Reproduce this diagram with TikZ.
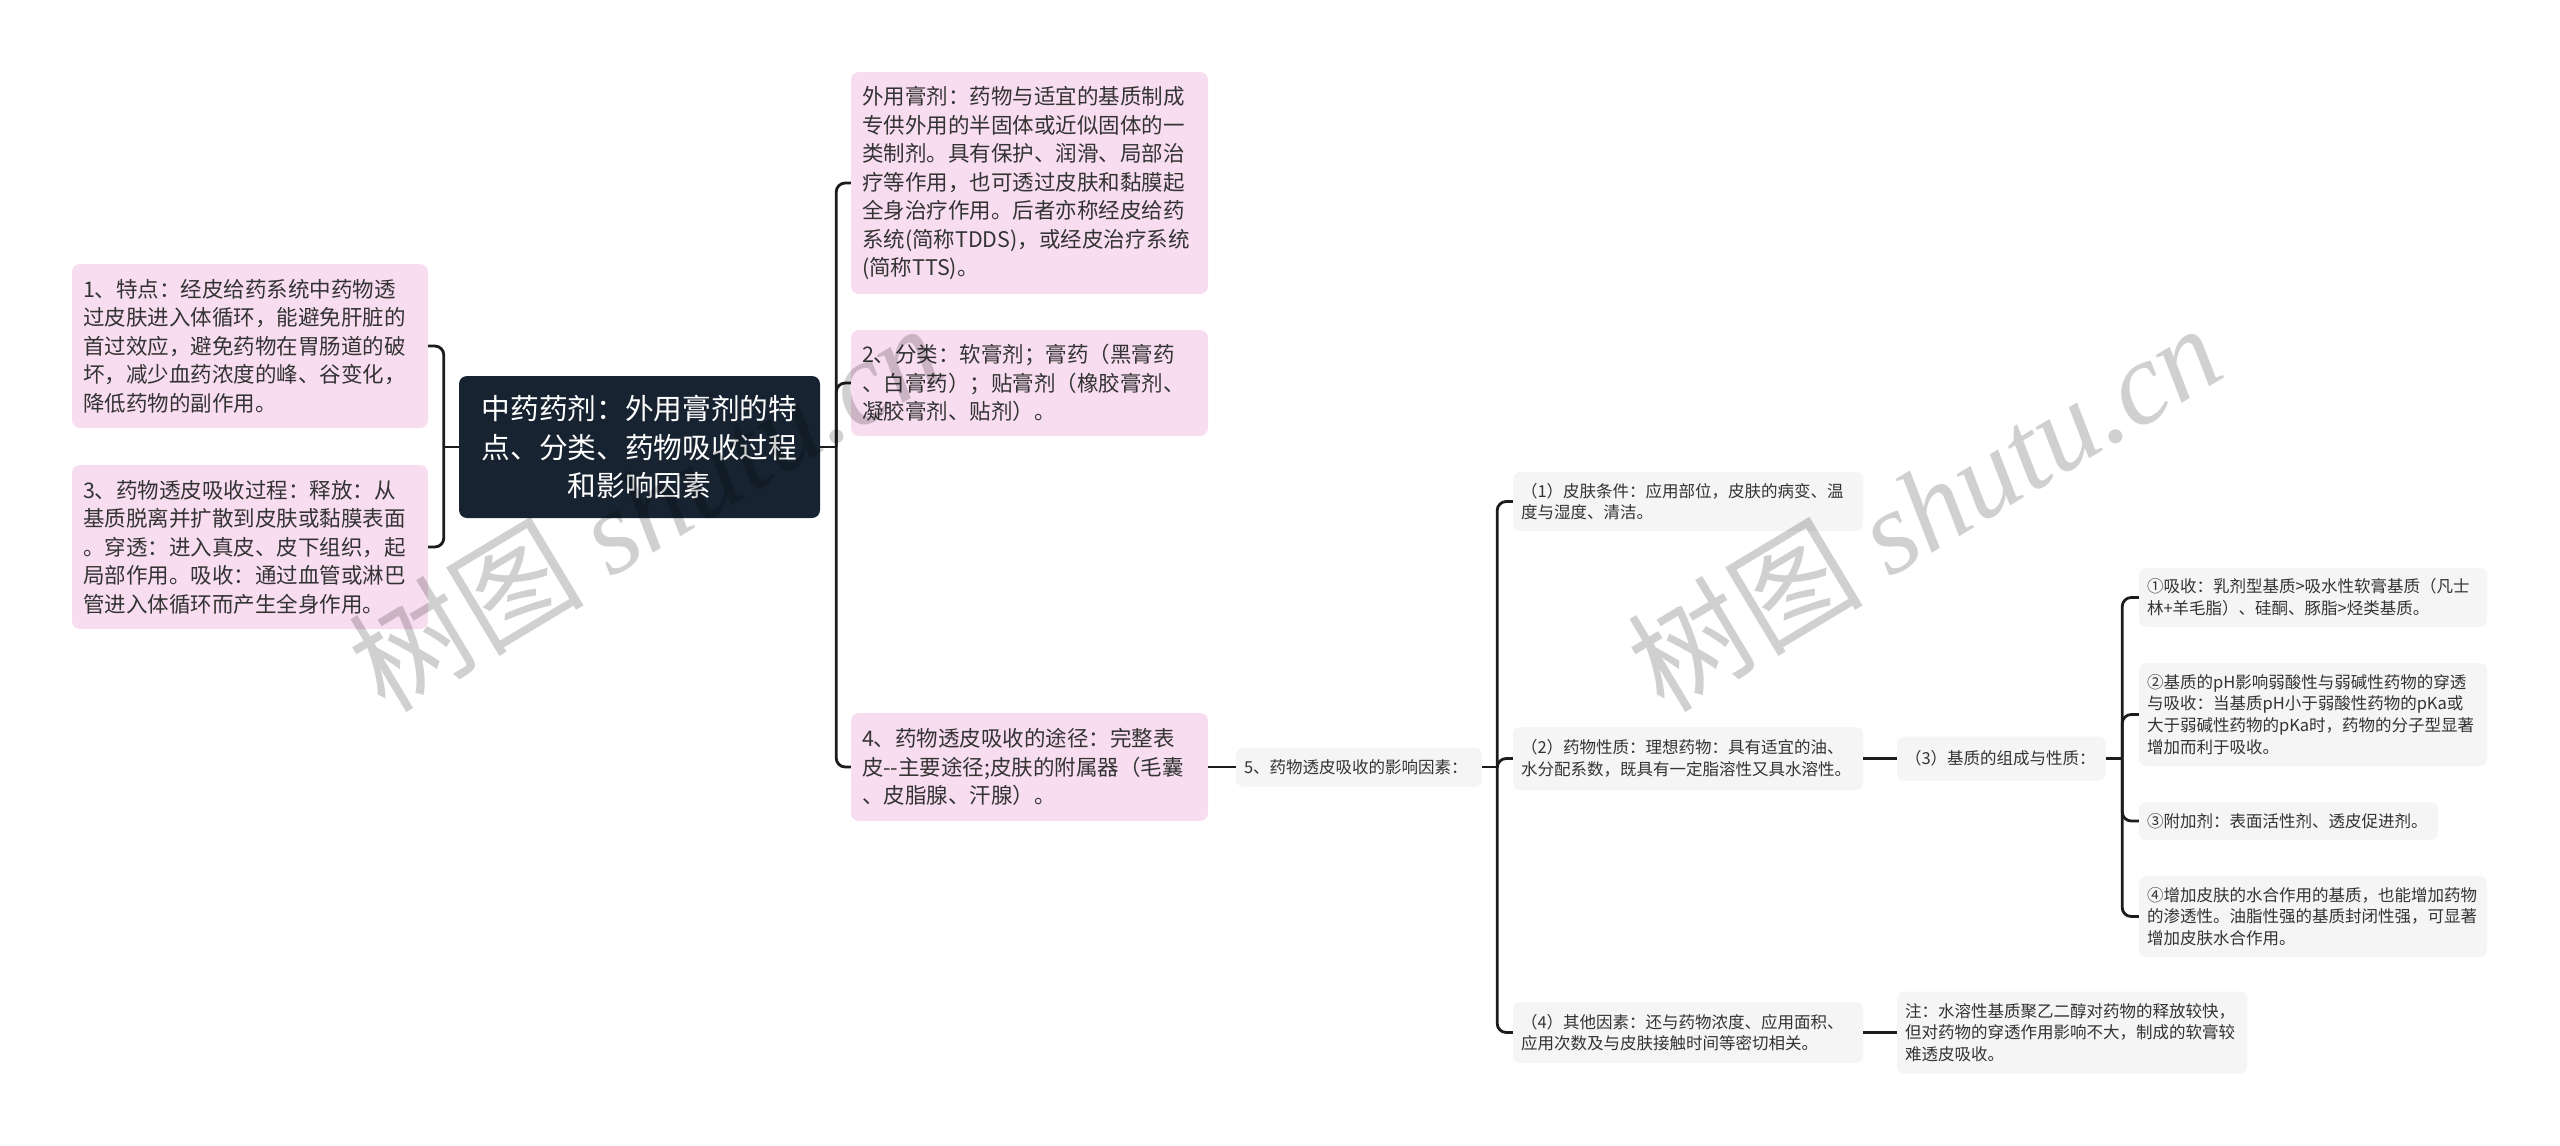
\documentclass[tikz,border=0pt]{standalone}
\usepackage{fontspec}
\newfontfamily\cjk{Noto Sans CJK SC}
\newfontfamily\wmlatin{Liberation Serif}
\usetikzlibrary{calc}
\definecolor{pinkbg}{HTML}{F8DDF0}
\definecolor{graybg}{HTML}{F5F5F5}
\definecolor{darkbg}{HTML}{172331}
\definecolor{txt}{HTML}{333333}
\definecolor{linec}{HTML}{1C1C1C}
\definecolor{wmgray}{HTML}{D0D0D0}
\tikzset{
  pinkbox/.style={fill=pinkbg, rounded corners=8pt, text=txt, align=left,
    inner xsep=11pt, inner ysep=0pt, font=\cjk\fontsize{21.5}{28.5}\selectfont},
  graybox/.style={fill=graybg, rounded corners=7pt, text=txt, align=left,
    inner xsep=8pt, inner ysep=0pt, font=\cjk\fontsize{16.5}{21.7}\selectfont},
  rootbox/.style={fill=darkbg, rounded corners=8pt, text=white, align=center,
    inner xsep=22pt, inner ysep=0pt, font=\cjk\fontsize{28.7}{38.3}\selectfont},
  conn/.style={draw=linec, line width=2.8pt, rounded corners=9pt},
  wmark/.style={text=wmgray, inner sep=0pt, font=\cjk\fontsize{118}{118}\selectfont},
}
\begin{document}
\begin{tikzpicture}[x=1pt,y=-1pt]
\useasboundingbox (0,0) rectangle (2560,1146);

% root
\node[rootbox, text width=317pt, minimum height=142pt] (root) at (639.5,447)
  {中药药剂：外用膏剂的特\\点、分类、药物吸收过程\\和影响因素};

% left branches
\node[pinkbox, text width=334pt, minimum height=164pt] (b1) at (250,346)
  {1、特点：经皮给药系统中药物透\\过皮肤进入体循环，能避免肝脏的\\首过效应，避免药物在胃肠道的破\\坏，减少血药浓度的峰、谷变化，\\降低药物的副作用。};
\node[pinkbox, text width=334pt, minimum height=164pt] (b3) at (250,547)
  {3、药物透皮吸收过程：释放：从\\基质脱离并扩散到皮肤或黏膜表面\\。穿透：进入真皮、皮下组织，起\\局部作用。吸收：通过血管或淋巴\\管进入体循环而产生全身作用。};

% right branches
\node[pinkbox, text width=335pt, minimum height=222pt] (t1) at (1029.5,183)
  {外用膏剂：药物与适宜的基质制成\\专供外用的半固体或近似固体的一\\类制剂。具有保护、润滑、局部治\\疗等作用，也可透过皮肤和黏膜起\\全身治疗作用。后者亦称经皮给药\\系统(简称TDDS)，或经皮治疗系统\\(简称TTS)。};
\node[pinkbox, text width=335pt, minimum height=106pt] (b2) at (1029.5,383)
  {2、分类：软膏剂；膏药（黑膏药\\、白膏药）；贴膏剂（橡胶膏剂、\\凝胶膏剂、贴剂）。};
\node[pinkbox, text width=335pt, minimum height=108pt] (b4) at (1029.5,767)
  {4、药物透皮吸收的途径：完整表\\皮-{}-主要途径;皮肤的附属器（毛囊\\、皮脂腺、汗腺）。};

\node[graybox, text width=230pt, minimum height=39pt] (n5) at (1359,767)
  {5、药物透皮吸收的影响因素：};

\node[graybox, text width=334pt, minimum height=59pt] (c1) at (1688,501.5)
  {（1）皮肤条件：应用部位，皮肤的病变、温\\度与湿度、清洁。};
\node[graybox, text width=334pt, minimum height=63pt] (c2) at (1688,758.5)
  {（2）药物性质：理想药物：具有适宜的油、\\水分配系数，既具有一定脂溶性又具水溶性。};
\node[graybox, text width=334pt, minimum height=61pt] (c4) at (1688,1032.5)
  {（4）其他因素：还与药物浓度、应用面积、\\应用次数及与皮肤接触时间等密切相关。};

\node[graybox, text width=193pt, minimum height=44pt] (c3) at (2001.5,758.5)
  {（3）基质的组成与性质：};
\node[graybox, text width=334pt, minimum height=82pt] (note) at (2072,1032.5)
  {注：水溶性基质聚乙二醇对药物的释放较快，\\但对药物的穿透作用影响不大，制成的软膏较\\难透皮吸收。};

\node[graybox, text width=332pt, minimum height=59pt] (d1) at (2313,597.5)
  {①吸收：乳剂型基质>吸水性软膏基质（凡士\\林+羊毛脂）、硅酮、豚脂>烃类基质。};
\node[graybox, text width=332pt, minimum height=103pt] (d2) at (2313,714.5)
  {②基质的pH影响弱酸性与弱碱性药物的穿透\\与吸收：当基质pH小于弱酸性药物的pKa或\\大于弱碱性药物的pKa时，药物的分子型显著\\增加而利于吸收。};
\node[graybox, text width=283pt, minimum height=38pt] (d3) at (2288.5,821)
  {③附加剂：表面活性剂、透皮促进剂。};
\node[graybox, text width=332pt, minimum height=81pt] (d4) at (2313,916.5)
  {④增加皮肤的水合作用的基质，也能增加药物\\的渗透性。油脂性强的基质封闭性强，可显著\\增加皮肤水合作用。};

% connectors
\coordinate (jL) at ($(root.west)+(-15,0)$);
\draw[conn] (root.west) -- (jL);
\draw[conn] (jL) |- (b1.east);
\draw[conn] (jL) |- (b3.east);

\coordinate (jR) at ($(root.east)+(16,0)$);
\draw[conn] (root.east) -- (jR);
\foreach \c in {t1,b2,b4} \draw[conn] (jR) |- (\c.west);

\draw[conn] (b4.east) -- (n5.west);
\coordinate (j5) at ($(n5.east)+(15,0)$);
\draw[conn] (n5.east) -- (j5);
\foreach \c in {c1,c2,c4} \draw[conn] (j5) |- (\c.west);

\draw[conn] (c2.east) -- (c3.west);
\coordinate (j3) at ($(c3.east)+(16,0)$);
\draw[conn] (c3.east) -- (j3);
\foreach \c in {d1,d2,d3,d4} \draw[conn] (j3) |- (\c.west);

\draw[conn] (c4.east) -- (note.west);

% watermark
\begin{scope}[blend mode=multiply]
\node[wmark, rotate=31] (wm1) at (645,506) {树图 {\wmlatin\itshape shutu.cn}};
\node[wmark, rotate=31] (wm2) at (1924,506) {树图 {\wmlatin\itshape shutu.cn}};
\end{scope}
\end{tikzpicture}
\end{document}
